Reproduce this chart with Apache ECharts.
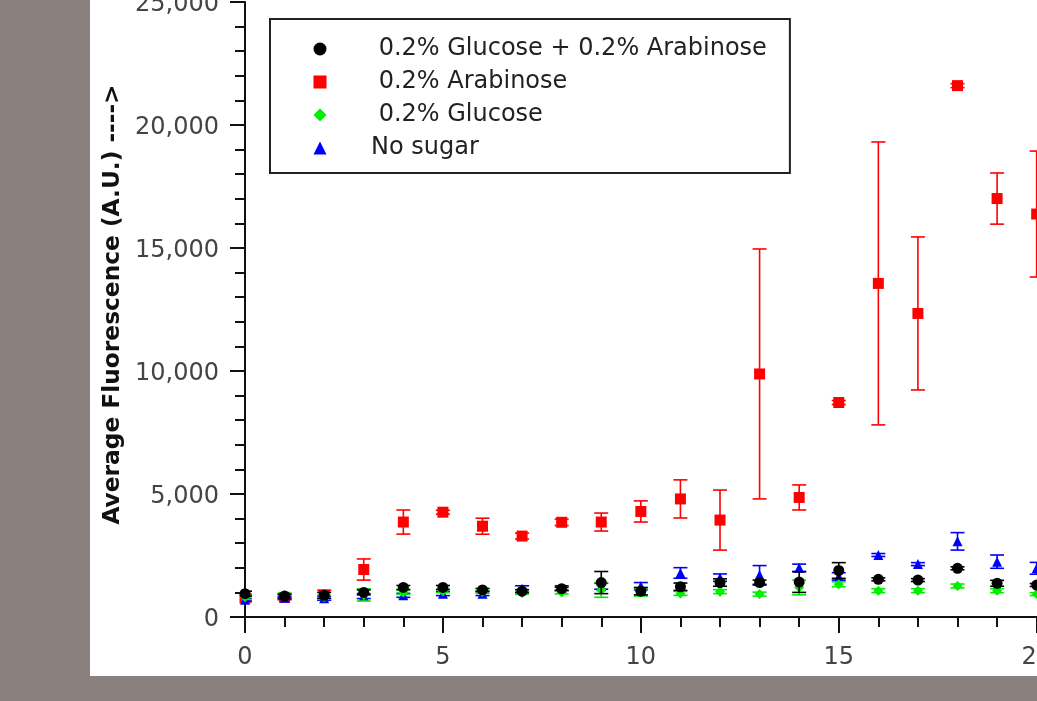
<!DOCTYPE html>
<html><head><meta charset="utf-8">
<script src="https://cdn.jsdelivr.net/npm/echarts@6/dist/echarts.min.js"></script>
<style>
html,body{margin:0;padding:0;width:1037px;height:701px;background:#8a817f;overflow:hidden}
#wrap{position:absolute;left:90px;top:0;width:947px;height:676px;background:#fff;overflow:hidden}
#chart{position:absolute;left:0;top:0;width:1200px;height:676px}
</style></head><body><div id="wrap"><div id="chart"></div></div>
<script>
// time points (x axis)
const hours = [0,1,2,3,4,5,6,7,8,9,10,11,12,13,14,15,16,17,18,19,20];
// series names
const seriesNames = ['0.2% Glucose + 0.2% Arabinose','0.2% Arabinose','0.2% Glucose','No sugar'];
// 0.2% Glucose + 0.2% Arabinose
const glcAraMean = [950,850,880,1000,1200,1200,1100,1050,1150,1400,1050,1230,1400,1400,1420,1890,1530,1500,1980,1370,1300];
const glcAraErr  = [100,80,120,100,80,80,60,60,60,450,150,150,150,100,420,320,60,60,60,120,60];
// 0.2% Arabinose
const araMean = [770,800,890,1930,3860,4260,3690,3290,3850,3860,4290,4800,3940,9880,4860,8720,13560,12340,21600,17010,16380];
const araErr  = [150,100,200,430,490,80,325,120,130,365,430,775,1220,5080,510,80,5750,3110,80,1040,2560];
// 0.2% Glucose
const glcMean = [800,870,800,900,1000,1050,1020,980,1000,1100,1000,960,1030,930,1200,1330,1070,1070,1260,1070,930];
const glcErr  = [80,100,80,250,80,60,60,60,60,300,150,80,80,80,300,100,80,80,80,80,60];
// No sugar
const noSugarMean = [700,780,760,850,880,950,950,1150,1170,1250,1250,1790,1600,1710,2000,1650,2520,2150,3075,2250,1980];
const noSugarErr  = [50,50,80,100,80,80,80,120,100,120,150,215,150,380,150,150,60,60,355,270,240];

const colors = ['#000000','#ff0000','#00ee00','#0000ff'];
const symbols = ['circle','rect','diamond','triangle'];
const sizes = [11,11,10,10];
const means = [glcAraMean, araMean, glcMean, noSugarMean];
const errs = [glcAraErr, araErr, glcErr, noSugarErr];
const zOrder = [5,2,4,3];

function errSeries(i){
  const color = colors[i];
  return {
    type:'custom', name: seriesNames[i], z: zOrder[i], clip:true, silent:true,
    data: hours.map((h,k)=>[h, means[i][k]-errs[i][k], means[i][k]+errs[i][k]]),
    encode:{x:0, y:[1,2]},
    renderItem(params, api){
      const x = api.value(0);
      const lo = api.coord([x, api.value(1)]);
      const hi = api.coord([x, api.value(2)]);
      const hw = 7;
      const st = {stroke: color, lineWidth: 1.6};
      return {type:'group', children:[
        {type:'line', shape:{x1:lo[0],y1:lo[1],x2:hi[0],y2:hi[1]}, style:st},
        {type:'line', shape:{x1:lo[0]-hw,y1:lo[1],x2:lo[0]+hw,y2:lo[1]}, style:st},
        {type:'line', shape:{x1:hi[0]-hw,y1:hi[1],x2:hi[0]+hw,y2:hi[1]}, style:st}
      ]};
    }
  };
}
function pointSeries(i){
  return {
    type:'scatter', name: seriesNames[i], z: zOrder[i],
    symbol: symbols[i], symbolSize: sizes[i],
    itemStyle:{color: colors[i], opacity:1},
    data: hours.map((h,k)=>[h, means[i][k]]),
    emphasis:{disabled:true}
  };
}

const series = [];
for (let i=0;i<4;i++){ series.push(errSeries(i)); series.push(pointSeries(i)); }

const font = 'DejaVu Sans';
const chart = echarts.init(document.getElementById('chart'));
chart.setOption({
  animation:false,
  textStyle:{fontFamily:font},
  grid:{left:155, top:2, bottom:59, right:55.4, containLabel:false, outerBoundsMode:'none'},
  legend:{
    orient:'vertical', left:180, top:19,
    padding:[18,23,13,43.5],
    itemGap:9, itemWidth:13, itemHeight:13,
    borderColor:'#222', borderWidth:2, backgroundColor:'#fff',
    selectedMode:false,
    formatter: name => '{a|' + (name === 'No sugar' ? name : ' ' + name) + '}',
    textStyle:{fontFamily:font, fontSize:24, color:'#222', lineHeight:24,
      rich:{a:{fontFamily:font, fontSize:24, color:'#222', lineHeight:24, padding:[0,0,0,39.5]}}},
    data: seriesNames.map((n,i)=>({name:n, icon:symbols[i], itemStyle:{color:colors[i]}}))
  },
  xAxis:{
    type:'value', min:0, max:25, interval:5,
    axisLine:{show:true, onZero:false, lineStyle:{color:'#111', width:2}},
    axisTick:{show:true, length:16, lineStyle:{color:'#111', width:2}},
    minorTick:{show:true, splitNumber:5, length:10, lineStyle:{color:'#111', width:2}},
    splitLine:{show:false},
    axisLabel:{fontFamily:font, fontSize:24, color:'#444', margin:29}
  },
  yAxis:{
    type:'value', min:0, max:25000, interval:5000,
    name:'Average Fluorescence (A.U.) ---->',
    nameLocation:'middle', nameGap:120,
    nameTextStyle:{fontFamily:font, fontSize:23.3, fontWeight:'bold', color:'#111', padding:[0,0,0,10]},
    axisLine:{show:true, lineStyle:{color:'#111', width:2}},
    axisTick:{show:true, length:15, lineStyle:{color:'#111', width:2}},
    minorTick:{show:true, splitNumber:5, length:10, lineStyle:{color:'#111', width:2}},
    splitLine:{show:false},
    axisLabel:{fontFamily:font, fontSize:24, color:'#444', margin:26,
      formatter: v => '{v|' + v.toLocaleString('en-US') + '}',
      rich:{v:{fontFamily:font, fontSize:24, color:'#444', padding:[6,0,0,0]}}}
  },
  series: series
});
</script></body></html>
